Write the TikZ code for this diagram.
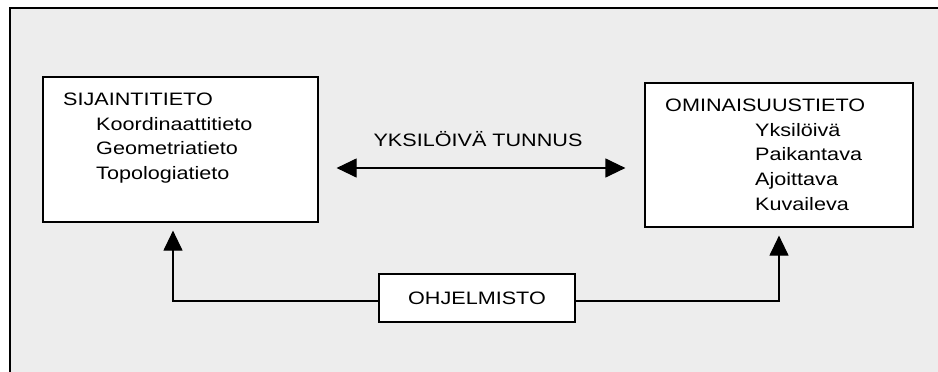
\documentclass[tikz,border=0pt]{standalone}
\usepackage{fontspec}
\setmainfont{Liberation Sans}[FakeStretch=1.2]
\usetikzlibrary{arrows.meta}
\definecolor{bggray}{HTML}{EDEDED}
\begin{document}
\begin{tikzpicture}[x=1pt,y=-1pt,>={Triangle[length=20pt,width=19pt]}]

% font size and line spacing
\def\fs{\fontsize{18}{24.6}\selectfont}
% node style definition
\tikzstyle{box} = [
	draw, fill=white, rectangle, line width=1.2pt,
	inner sep=0pt, font=\fs ];
\tikzstyle{plain} = [draw=none, fill=none, inner sep=0pt, font=\fs];
\tikzstyle{conn} = [line width=1.2pt];

\useasboundingbox (0,0) rectangle (938,372);
\fill[bggray] (10,8) rectangle (938,372);
\draw[line width=2pt] (10,372) -- (10,8) -- (938,8);

\node[box, minimum width=275pt, minimum height=145pt] (sij) at (180.5,149.5) {};
\node[box, minimum width=268pt, minimum height=144pt] (omi) at (779,155) {};
\node[box, minimum width=196pt, minimum height=48pt] (ohj) at (477,298) {OHJELMISTO};

\node[plain, anchor=north west, align=left] (sijt) at (63,93) {SIJAINTITIETO\\
	\hspace*{33pt}Koordinaattitieto\\
	\hspace*{33pt}Geometriatieto\\
	\hspace*{33pt}Topologiatieto};
\node[plain, anchor=north west, align=left] (omit) at (665,99) {OMINAISUUSTIETO\\
	\hspace*{90pt}Yksilöivä\\
	\hspace*{90pt}Paikantava\\
	\hspace*{90pt}Ajoittava\\
	\hspace*{90pt}Kuvaileva};
\node[plain, anchor=base] (tun) at (478,146) {YKSILÖIVÄ TUNNUS};

\draw[conn,<->,shorten <=18pt,shorten >=19pt] (sij.east |- 0,168) -- (omi.west |- 0,168);
\draw[conn,->,shorten >=8pt] ([yshift=-3pt]ohj.west) -| ([xshift=-7.5pt]sij.south);
\draw[conn,->,shorten >=8pt] ([yshift=-3pt]ohj.east) -| (omi.south);

\end{tikzpicture}
\end{document}
